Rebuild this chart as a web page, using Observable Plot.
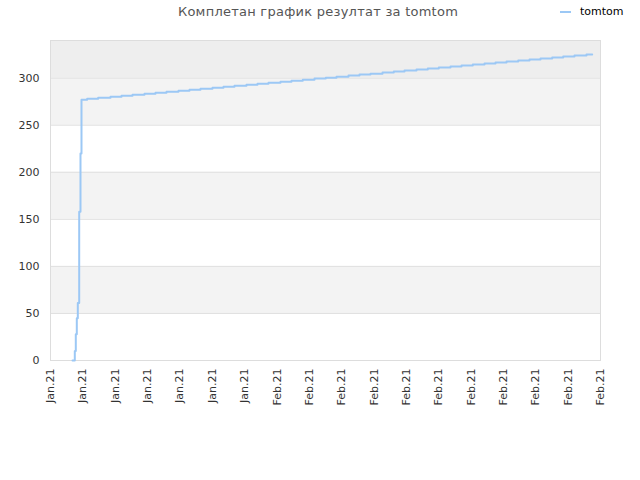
<!DOCTYPE html>
<html>
<head>
<meta charset="utf-8">
<script src="https://cdn.jsdelivr.net/npm/d3@7"></script>
<script src="https://cdn.jsdelivr.net/npm/@observablehq/plot@0.6"></script>
<style>
  body { margin: 0; background: #fff; font-family: "DejaVu Sans", sans-serif; }
  #wrap { position: relative; width: 640px; height: 480px; }
  #title { position: absolute; left: 0; top: 4px; width: 636px; text-align: center; font-size: 13px; color: #555; letter-spacing: 0.25px; }
  #legend { position: absolute; left: 560px; top: 5px; font-size: 11px; color: #000; display: flex; align-items: center; }
  #legend span.sw { display: inline-block; width: 11px; height: 2px; background: #9cc8f5; margin-right: 9px; }
  #chart { position: absolute; left: 0; top: 0; }
</style>
</head>
<body>
<div id="wrap">
  <div id="chart"></div>
  <div id="title">Комплетан график резултат за tomtom</div>
  <div id="legend"><span class="sw"></span>tomtom</div>
</div>
<script>
// x positions in tick units (0 = first tick label), values = cumulative results
const xPos = [0.680, 0.751, 0.782, 0.813, 0.844, 0.887, 0.927, 0.958,
  1.134, 1.474, 1.855, 2.195, 2.535, 2.905, 3.245, 3.585, 3.956, 4.296,
  4.636, 5.007, 5.347, 5.687, 6.058, 6.398, 6.738, 7.109, 7.449, 7.798,
  8.160, 8.509, 8.840, 9.211, 9.551, 9.891, 10.262, 10.611, 10.942, 11.313,
  11.662, 12.002, 12.364, 12.704, 13.053, 13.415, 13.755, 14.095, 14.457,
  14.806, 15.146, 15.507, 15.847, 16.196, 16.567, 16.743];
const values = [0, 10, 28, 45, 61, 158, 220, 277,
  278.1, 279.1, 280.2, 281.3, 282.4, 283.4, 284.5, 285.6, 286.6, 287.7,
  288.8, 289.8, 290.9, 292.0, 293.1, 294.1, 295.2, 296.3, 297.3, 298.4,
  299.5, 300.5, 301.6, 302.7, 303.8, 304.8, 305.9, 307.0, 308.0, 309.1,
  310.2, 311.2, 312.3, 313.4, 314.5, 315.5, 316.6, 317.7, 318.7,
  319.8, 320.9, 321.9, 323.0, 324.1, 325.2, 325.2];

const xTickPos = [0, 1, 2, 3, 4, 5, 6, 7, 8, 9, 10, 11, 12, 13, 14, 15, 16, 17];
const xTickLabels = ["Jan.21", "Jan.21", "Jan.21", "Jan.21", "Jan.21", "Jan.21", "Jan.21",
  "Feb.21", "Feb.21", "Feb.21", "Feb.21", "Feb.21", "Feb.21", "Feb.21", "Feb.21", "Feb.21", "Feb.21", "Feb.21"];
const yTicks = [0, 50, 100, 150, 200, 250, 300];
const bandLow = [50, 150, 250, 300];
const bandHigh = [100, 200, 300, 340];
const bandFill = ["#f3f3f3", "#f3f3f3", "#f3f3f3", "#eeeeee"];

const data = xPos.map((x, i) => ({x, y: values[i]}));
const bands = bandLow.map((lo, i) => ({lo, hi: bandHigh[i], fill: bandFill[i]}));

const chart = Plot.plot({
  width: 640,
  height: 480,
  marginLeft: 50,
  marginRight: 40,
  marginTop: 40,
  marginBottom: 120,
  style: {fontFamily: "DejaVu Sans, sans-serif", fontSize: "11px", color: "#333", background: "transparent"},
  x: {domain: [0, 17]},
  y: {domain: [0, 340]},
  marks: [
    Plot.rect(bands, {y1: "lo", y2: "hi", fill: "fill"}),
    Plot.ruleY(yTicks, {stroke: "#e0e0e0"}),
    Plot.frame({stroke: "#dddddd"}),
    Plot.axisY({ticks: yTicks, tickSize: 0, tickPadding: 11, label: null, fontSize: 11}),
    Plot.axisX({ticks: xTickPos, tickFormat: i => xTickLabels[i], tickRotate: -90, tickSize: 0, tickPadding: 8, label: null, fontSize: 11}),
    Plot.line(data, {x: "x", y: "y", curve: "step-after", stroke: "#9cc8f5", strokeWidth: 2})
  ]
});
document.getElementById("chart").appendChild(chart);
</script>
</body>
</html>
